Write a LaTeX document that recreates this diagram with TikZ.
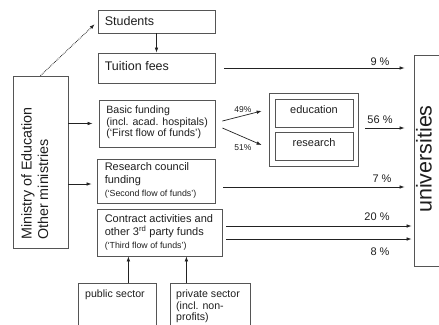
\documentclass[tikz,border=0pt]{standalone}
\usepackage{fontspec}
\setmainfont{Liberation Sans}
\usetikzlibrary{arrows.meta,calc}
\definecolor{boxc}{HTML}{555555}
\definecolor{txtc}{HTML}{1E1E1E}
\definecolor{arrc}{HTML}{222222}
\newcommand\fsBig{\fontsize{21.5bp}{25bp}\selectfont}
\newcommand\fsMin{\fontsize{14.3bp}{16.5bp}\selectfont}
\newcommand\fsL{\fontsize{12.5bp}{14.5bp}\selectfont}
\newcommand\fsM{\fontsize{11bp}{13bp}\selectfont}
\newcommand\fsN{\fontsize{10.6bp}{11.7bp}\selectfont}
\newcommand\fsXS{\fontsize{8.8bp}{10bp}\selectfont}
\newcommand\fsP{\fontsize{11bp}{13bp}\selectfont}
\newcommand\fsPs{\fontsize{8.5bp}{10bp}\selectfont}
\begin{document}
\begin{tikzpicture}[x=1bp,y=1bp,
  box/.style={draw=boxc, line width=0.8bp, inner sep=0pt, text=txtc},
  txtnode/.style={inner sep=0pt, text=txtc, align=left},
  arr/.style={draw=arrc, line width=0.7bp, -{Latex[length=5bp,width=3.6bp]}},
  dotarr/.style={arr, densely dotted, line width=0.9bp}]
\useasboundingbox (0,0) rectangle (439,324);

% boxes
\node[box, minimum width=117bp, minimum height=23bp] (students) at (156.5,302.5) {};
\node[txtnode, font=\fsL, anchor=west] (studentst) at ($(students.west)+(7,0)$) {Students};
\node[box, minimum width=117bp, minimum height=30bp] (tuition) at (156.5,256) {};
\node[txtnode, font=\fsL, anchor=west] (tuitiont) at ($(tuition.west)+(7,1.5)$) {Tuition fees};
\node[box, minimum width=116bp, minimum height=47bp] (basic) at (157,200.5) {};
\node[txtnode, font=\fsN, anchor=west] (basict) at ($(basic.west)+(7.5,1)$) {Basic funding\\(incl. acad. hospitals)\\(‘First flow of funds’)};
\node[box, minimum width=118bp, minimum height=44bp] (research) at (156,143) {};
\node[txtnode, font=\fsM, anchor=west] (researcht) at ($(research.west)+(8,0.5)$) {Research council\\funding\\{\fsXS(‘Second flow of funds’)}};
\node[box, minimum width=125bp, minimum height=47bp] (contract) at (159.5,91.5) {};
\node[txtnode, font=\fsM, anchor=west] (contractt) at ($(contract.west)+(8,0.5)$) {Contract activities and\\other 3\textsuperscript{rd} party funds\\{\fsXS(‘Third flow of funds’)}};

\node[box, minimum width=89bp, minimum height=73bp] (group) at (313.5,194.5) {};
\node[box, font=\fsP, minimum width=78bp, minimum height=28bp, text height=8bp, text depth=8bp] (edu) at (314,211) {education};
\node[box, font=\fsP, minimum width=78bp, minimum height=28bp, text height=8bp, text depth=8bp] (res) at (314,178) {research};

\node[box, minimum width=55bp, minimum height=172bp] (ministry) at (40.5,162) {};
\node[txtnode, font=\fsMin, rotate=90, anchor=north west] (ministryt) at (21,84) {Ministry of Education\\Other ministries};

\node[box, minimum width=46bp, minimum height=211bp] (univ) at (437,163.5) {};
\node[txtnode, font=\fsBig, rotate=90] (univt) at (424,165) {universities};

\node[box, anchor=north west, minimum width=78bp, minimum height=60bp] (public) at (78,41) {};
\node[txtnode, font=\fsN, anchor=north west] (publict) at (85,34.5) {public sector};
\node[box, anchor=north west, minimum width=80bp, minimum height=60bp] (private) at (170,41) {};
\node[txtnode, font=\fsN, anchor=north west] (privatet) at (176,34.5) {private sector\\(incl. non-\\profits)};

% connectors
\draw[dotarr, shorten >=4bp] (ministry.north) -- (students.west);
\draw[arr] (students.south) -- (tuition.north);
\draw[arr, shorten >=6bp] (ministry.east |- basic.west) -- (basic.west);
\draw[arr, shorten >=5bp] ([yshift=-3bp]research.west -| ministry.east) -- ([yshift=-3bp]research.west);
\draw[arr] ($(basic.east)+(7,2.5)$) -- ($(group.west |- edu.west)+(-7,2)$);
\draw[arr] ($(basic.east)+(7,-4.5)$) -- ($(group.west |- res.west)+(-7,1)$);
\draw[arr, shorten <=9bp, shorten >=9bp] (tuition.east) -- (tuition.east -| univ.west);
\draw[arr, shorten <=7bp, shorten >=9bp] ([yshift=1.5bp]group.east) -- ([yshift=1.5bp]group.east -| univ.west);
\draw[arr, shorten <=8bp, shorten >=9bp] ([yshift=-6bp]research.east) -- ([yshift=-6bp]research.east -| univ.west);
\draw[arr, shorten <=4bp, shorten >=2bp] ([yshift=6.5bp]contract.east) -- ([yshift=6.5bp]contract.east -| univ.west);
\draw[arr, shorten <=4bp, shorten >=2bp] ([yshift=-6.5bp]contract.east) -- ([yshift=-6.5bp]contract.east -| univ.west);
\draw[arr] ([xshift=11bp]public.north) -- ([xshift=11bp]public.north |- contract.south);
\draw[arr] ([xshift=-24bp]private.north) -- ([xshift=-24bp]private.north |- contract.south);

% labels
\node[txtnode, font=\fsP] (l9) at (380,262) {9 \%};
\node[txtnode, font=\fsP] (l56) at (380,204) {56 \%};
\node[txtnode, font=\fsP] (l7) at (382,145) {7 \%};
\node[txtnode, font=\fsP] (l20) at (377,107) {20 \%};
\node[txtnode, font=\fsP] (l8) at (380,72) {8 \%};
\node[txtnode, font=\fsPs] (l49) at (243,214) {49\%};
\node[txtnode, font=\fsPs] (l51) at (243,176) {51\%};
\end{tikzpicture}
\end{document}
